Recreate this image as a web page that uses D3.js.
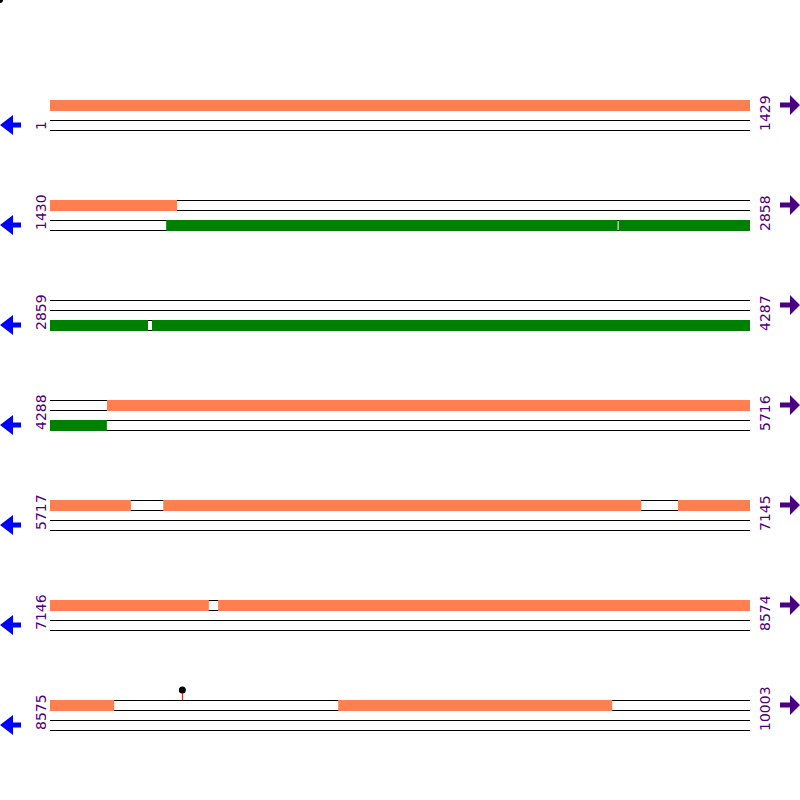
<!DOCTYPE html>
<html lang="en">
<head>
	<meta charset="utf-8">
	<title>Sequence map</title>
	<script src="https://cdn.jsdelivr.net/npm/d3@7"></script>
	<style>
		body { margin: 0; background: #fff; }
		.label { font-family: "DejaVu Sans", sans-serif; font-size: 14px; fill: #4b0082; }
	</style>
</head>
<body>
	<script>
		// rows of the map, 1429 bases each
		var rowStarts = [1, 1430, 2859, 4288, 5717, 7146, 8575];
		var rowEnds = [1429, 2858, 4287, 5716, 7145, 8574, 10003];
		var rowLen = 1429;

		// features per lane (start, end) in base positions
		var orangeLane1 = [[1, 1689], [4404, 5882], [5948, 6923], [6998, 7470], [7489, 8706], [9163, 9722]];
		var greenLane3 = [[1667, 2588], [2590, 3059], [3067, 4404]];
		var sites = [8844];

		var width = 800, height = 800;
		var svg = d3.select("body").append("svg")
			.attr("width", width)
			.attr("height", height);

		var x = d3.scaleLinear().domain([0, rowLen - 1]).range([50, 750]);
		var rowY = d3.scaleLinear().domain([0, 1]).range([100, 200]);

		function rowOf(pos) {
			return d3.bisectRight(rowStarts, pos) - 1;
		}

		// split features at row breaks
		function split(list, lane, colour) {
			var out = [];
			list.forEach(function(f) {
				for (var r = rowOf(f[0]); r <= rowOf(f[1]); r++) {
					var s = Math.max(f[0], rowStarts[r]);
					var e = Math.min(f[1], rowStarts[r] + rowLen - 1);
					out.push({row: r, s: s - rowStarts[r], e: e - rowStarts[r], lane: lane, colour: colour});
				}
			});
			return out;
		}

		var rows = svg.selectAll("g.row")
			.data(rowStarts)
			.enter().append("g")
			.attr("class", "row")
			.attr("transform", function(d, i) { return "translate(0," + rowY(i) + ")"; });

		// lane lines
		rows.selectAll("line")
			.data([0, 1, 2, 3])
			.enter().append("line")
			.attr("x1", x(0)).attr("x2", x(rowLen - 1))
			.attr("y1", function(d) { return d * 10 + 0.5; })
			.attr("y2", function(d) { return d * 10 + 0.5; })
			.attr("stroke", "#000");

		var feats = split(orangeLane1, 0, "#ff7f50").concat(split(greenLane3, 2, "#008000"));
		svg.selectAll("rect.feat")
			.data(feats)
			.enter().append("rect")
			.attr("class", "feat")
			.attr("x", function(d) { return x(d.s); })
			.attr("width", function(d) { return x(d.e) - x(d.s); })
			.attr("y", function(d) { return rowY(d.row) + d.lane * 10; })
			.attr("height", 11)
			.attr("fill", function(d) { return d.colour; });

		// start / end labels
		rows.append("text")
			.attr("class", "label")
			.attr("transform", "translate(46,30) rotate(-90)")
			.text(function(d) { return d; });
		rows.append("text")
			.attr("class", "label")
			.attr("transform", "translate(770,31) rotate(-90)")
			.text(function(d, i) { return rowEnds[i]; });

		// arrows
		rows.append("path")
			.attr("d", "M0,25 L13,15 L13,22.5 L21,22.5 L21,27.5 L13,27.5 L13,35 Z")
			.attr("fill", "#0000ff");
		rows.append("path")
			.attr("d", "M800,5 L790,-5 L790,2.5 L780,2.5 L780,7.5 L790,7.5 L790,15 Z")
			.attr("fill", "#4b0082");

		// site markers
		var marks = svg.selectAll("g.site")
			.data(sites)
			.enter().append("g")
			.attr("class", "site")
			.attr("transform", function(d) {
				var r = rowOf(d);
				return "translate(" + x(d - rowStarts[r]) + "," + rowY(r) + ")";
			});
		marks.append("line")
			.attr("x1", 0.5).attr("x2", 0.5)
			.attr("y1", -10).attr("y2", 0)
			.attr("stroke", "red");
		marks.append("circle")
			.attr("cx", 0.5).attr("cy", -10).attr("r", 3.5)
			.attr("fill", "#000");

		// stray unplaced marker
		svg.append("circle").attr("r", 3).attr("fill", "#000");
	</script>
</body>
</html>
